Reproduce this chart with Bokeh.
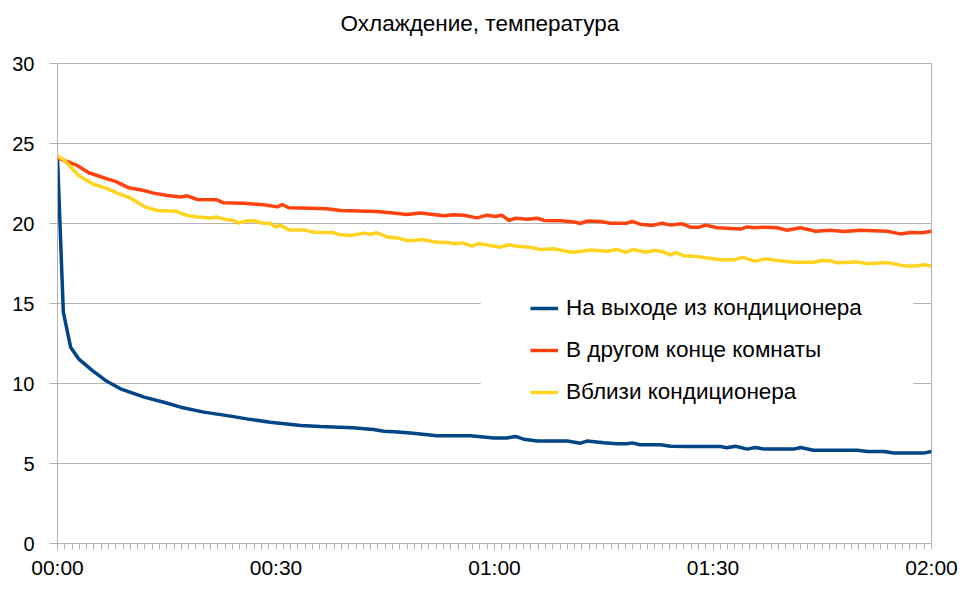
from bokeh.plotting import figure
from bokeh.models import (FixedTicker, SingleIntervalTicker, Range1d, Legend, LegendItem,
                          BoxAnnotation, Title)
from bokeh.embed import file_html
from bokeh.resources import INLINE

# ---- data (minutes since start, temperature °C) ----
chart_title = "Охлаждение, температура"
x_tick_minutes = [0, 30, 60, 90, 120]
x_tick_labels = ["00:00", "00:30", "01:00", "01:30", "02:00"]

series_names = ["На выходе из кондиционера", "В другом конце комнаты", "Вблизи кондиционера"]

t_outlet = [0, 0.8, 1.8, 2.9, 4.8, 6.6, 8.65, 11.9, 14.6, 16.9,
            20.1, 23.75, 26, 29.2, 33.4, 36.1, 40.5, 43.4, 44.8, 46.2,
            48.5, 52.1, 56.7, 59.9, 61.7, 62.9, 64.0, 65.9, 70.0, 71.8,
            72.7, 75.0, 76.8, 78.2, 78.9, 80.0, 82.8, 84.2, 86.5, 91.0,
            91.9, 93.1, 94.7, 95.8, 97.0, 101.1, 102.0, 103.8, 109.8, 111.2,
            113.5, 114.8, 118.9, 120]
v_outlet = [24.1, 14.46, 12.27, 11.54, 10.81, 10.19, 9.67, 9.15, 8.83, 8.52,
            8.21, 7.96, 7.79, 7.58, 7.375, 7.31, 7.23, 7.125, 7.02, 6.98,
            6.9, 6.73, 6.73, 6.6, 6.6, 6.69, 6.52, 6.4, 6.4, 6.27,
            6.4, 6.29, 6.23, 6.23, 6.29, 6.17, 6.17, 6.08, 6.06, 6.06,
            5.98, 6.08, 5.9, 6.0, 5.9, 5.9, 6.0, 5.83, 5.83, 5.75,
            5.75, 5.65, 5.65, 5.75]

t_far = [0, 0.9, 2.7, 4.3, 5.45, 6.8, 7.96, 9.8, 11.85, 13.2,
         15.1, 16.9, 17.8, 19.2, 21.9, 22.8, 25.6, 28.3, 30.2, 30.85,
         31.8, 34.7, 37.0, 38.9, 43.9, 45.7, 48.0, 49.8, 53.0, 54.4,
         55.8, 57.6, 59.0, 60.1, 61.0, 62.0, 62.9, 64.5, 65.9, 66.8,
         69.1, 70.9, 71.8, 72.7, 74.6, 75.9, 78.2, 78.9, 80.0, 81.7,
         83.0, 84.2, 85.8, 86.9, 88.1, 89.0, 90.6, 93.8, 94.7, 95.6,
         97.0, 98.8, 100.2, 102.0, 104.1, 106.1, 108.0, 110.3, 113.9, 115.7,
         117.1, 118.7, 120]
v_far = [24.1, 23.94, 23.63, 23.17, 23.0, 22.79, 22.63, 22.23, 22.06, 21.9,
         21.75, 21.65, 21.73, 21.5, 21.48, 21.29, 21.27, 21.17, 21.04, 21.19,
         20.98, 20.96, 20.92, 20.81, 20.75, 20.67, 20.56, 20.65, 20.48, 20.54,
         20.52, 20.35, 20.52, 20.44, 20.52, 20.19, 20.33, 20.27, 20.33, 20.19,
         20.17, 20.1, 20.0, 20.15, 20.13, 20.02, 20.02, 20.13, 19.96, 19.88,
         20.02, 19.9, 19.98, 19.77, 19.77, 19.9, 19.73, 19.65, 19.79, 19.73,
         19.77, 19.73, 19.58, 19.73, 19.52, 19.58, 19.5, 19.58, 19.52, 19.35,
         19.44, 19.42, 19.52]

t_near = [0, 0.9, 2.9, 5.0, 6.6, 8.2, 10.0, 12.1, 13.7, 16.2,
          17.8, 19.2, 21.0, 21.9, 23.3, 24.2, 24.9, 26.05, 27.2, 28.1,
          29.2, 29.9, 30.6, 31.8, 33.8, 35.2, 37.7, 38.9, 40.2, 42.1,
          43.0, 43.9, 45.3, 46.6, 48.0, 48.9, 50.1, 52.1, 53.5, 54.6,
          55.6, 56.9, 57.8, 60.8, 62.0, 63.1, 64.9, 66.3, 68.1, 70.0,
          70.9, 73.2, 75.5, 76.8, 78.0, 79.1, 80.7, 81.9, 83.0, 84.2,
          84.9, 86.0, 87.4, 89.2, 91.0, 92.9, 94.0, 95.8, 97.2, 98.8,
          101.1, 103.8, 105.0, 106.1, 107.1, 109.8, 111.2, 113.9, 116.2, 118.0,
          118.9, 120]
v_near = [24.2, 23.98, 23.0, 22.44, 22.23, 21.9, 21.6, 21.02, 20.81, 20.77,
          20.5, 20.4, 20.35, 20.4, 20.23, 20.19, 20.02, 20.17, 20.15, 20.02,
          20.02, 19.77, 19.9, 19.6, 19.6, 19.46, 19.44, 19.29, 19.25, 19.4,
          19.33, 19.42, 19.15, 19.1, 18.94, 18.94, 19.0, 18.83, 18.81, 18.73,
          18.79, 18.58, 18.75, 18.52, 18.67, 18.58, 18.52, 18.38, 18.42, 18.25,
          18.2, 18.35, 18.27, 18.38, 18.2, 18.38, 18.2, 18.31, 18.25, 18.04,
          18.19, 17.98, 17.96, 17.85, 17.73, 17.73, 17.88, 17.65, 17.79, 17.69,
          17.58, 17.58, 17.69, 17.67, 17.54, 17.6, 17.48, 17.56, 17.35, 17.35,
          17.42, 17.35]

colors = ["#004586", "#ff420e", "#ffd320"]
grid = "#b3b3b3"
font = "Liberation Sans"

p = figure(width=959, height=584, output_backend="svg", toolbar_location=None,
           x_range=Range1d(0, 120), y_range=Range1d(0, 30),
           min_border_left=57, min_border_right=28, min_border_top=63, min_border_bottom=41)

p.outline_line_color = grid
p.background_fill_color = "white"
p.border_fill_color = "white"

# spacer between the frame and the title, then the title itself
p.add_layout(Title(text=" ", text_font=font, text_font_size="10px", standoff=10), "above")
p.add_layout(Title(text=chart_title, text_font=font, text_font_size="22.5px",
                   text_font_style="normal", text_color="#000000",
                   align="left", offset=283, standoff=10), "above")

# x axis
p.xaxis.ticker = FixedTicker(ticks=x_tick_minutes, minor_ticks=list(range(0, 121)))
p.xaxis.major_label_overrides = {m: l for m, l in zip(x_tick_minutes, x_tick_labels)}
p.xaxis.axis_line_color = grid
p.xaxis.major_tick_line_color = grid
p.xaxis.minor_tick_line_color = grid
p.xaxis.major_tick_out = 6
p.xaxis.major_tick_in = 0
p.xaxis.minor_tick_out = 6
p.xaxis.minor_tick_in = 0
p.xaxis.major_label_text_font = font
p.xaxis.major_label_text_font_size = "21px"
p.xaxis.major_label_text_color = "#000000"
p.xaxis.major_label_standoff = 6
p.xgrid.grid_line_color = None

# y axis
p.yaxis.ticker = SingleIntervalTicker(interval=5, num_minor_ticks=0)
p.yaxis.axis_line_color = grid
p.yaxis.major_tick_line_color = grid
p.yaxis.major_tick_out = 8
p.yaxis.major_tick_in = 0
p.yaxis.minor_tick_line_color = None
p.yaxis.major_label_text_font = font
p.yaxis.major_label_text_font_size = "20px"
p.yaxis.major_label_text_color = "#000000"
p.yaxis.major_label_standoff = 15
p.ygrid.grid_line_color = grid
p.ygrid.grid_line_width = 1

r1 = p.line(t_outlet, v_outlet, line_color=colors[0], line_width=3.5)
r2 = p.line(t_far, v_far, line_color=colors[1], line_width=3.5)
r3 = p.line(t_near, v_near, line_color=colors[2], line_width=3.5)

# white area behind the legend (legend box extent)
p.add_layout(BoxAnnotation(left=58.1, right=117.5, bottom=8.4, top=16.4,
                           fill_color="white", fill_alpha=1.0, line_color=None,
                           level="underlay"))

legend = Legend(items=[LegendItem(label=series_names[0], renderers=[r1]),
                       LegendItem(label=series_names[1], renderers=[r2]),
                       LegendItem(label=series_names[2], renderers=[r3])],
                location=(473, 138))
legend.background_fill_alpha = 0
legend.border_line_color = None
legend.label_text_font = font
legend.label_text_font_size = "22.5px"
legend.label_text_color = "#000000"
legend.glyph_width = 28
legend.glyph_height = 24
legend.label_height = 24
legend.label_standoff = 8
legend.spacing = 16
legend.padding = 20
legend.margin = 0
p.add_layout(legend, "center")

open("out.html", "w").write(file_html(p, INLINE))
